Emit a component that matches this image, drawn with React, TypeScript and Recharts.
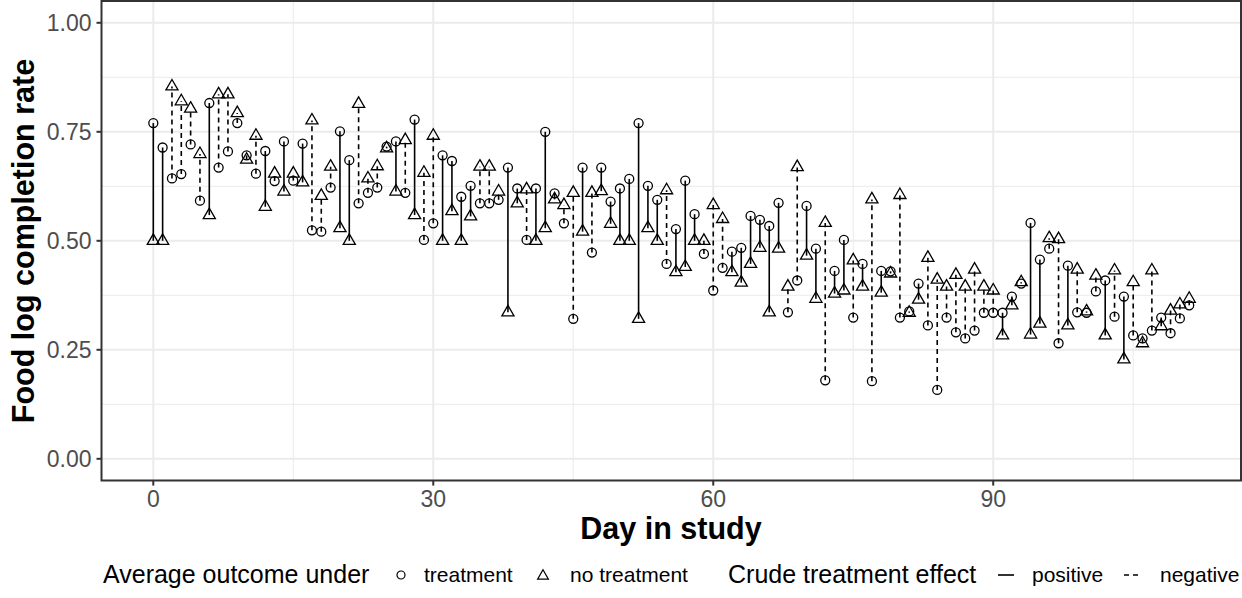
import React from 'react';
import { ComposedChart, XAxis, YAxis, Scatter, ReferenceLine, ReferenceArea, CartesianGrid } from 'recharts';

const days = [
  0, 1, 2, 3, 4, 5, 6, 7, 8, 9, 10, 11, 12, 13, 14, 15, 16, 17, 18, 19,
  20, 21, 22, 23, 24, 25, 26, 27, 28, 29, 30, 31, 32, 33, 34, 35, 36, 37, 38, 39,
  40, 41, 42, 43, 44, 45, 46, 47, 48, 49, 50, 51, 52, 53, 54, 55, 56, 57, 58, 59,
  60, 61, 62, 63, 64, 65, 66, 67, 68, 69, 70, 71, 72, 73, 74, 75, 76, 77, 78, 79,
  80, 81, 82, 83, 84, 85, 86, 87, 88, 89, 90, 91, 92, 93, 94, 95, 96, 97, 98, 99,
  100, 101, 102, 103, 104, 105, 106, 107, 108, 109, 110, 111,
];

// Average outcome under treatment (circles)
const treatment = [
  0.770, 0.714, 0.643, 0.653, 0.721, 0.592, 0.816, 0.668, 0.705, 0.770,
  0.696, 0.654, 0.706, 0.637, 0.728, 0.638, 0.723, 0.524, 0.521, 0.622,
  0.751, 0.685, 0.586, 0.610, 0.622, 0.716, 0.728, 0.610, 0.778, 0.502,
  0.540, 0.696, 0.683, 0.601, 0.626, 0.586, 0.586, 0.594, 0.668, 0.620,
  0.502, 0.620, 0.750, 0.609, 0.540, 0.321, 0.668, 0.473, 0.668, 0.590,
  0.620, 0.642, 0.770, 0.626, 0.594, 0.447, 0.527, 0.638, 0.561, 0.470,
  0.386, 0.438, 0.475, 0.484, 0.557, 0.548, 0.534, 0.587, 0.336, 0.409,
  0.580, 0.482, 0.180, 0.431, 0.502, 0.324, 0.447, 0.178, 0.431, 0.430,
  0.324, 0.338, 0.402, 0.306, 0.158, 0.324, 0.290, 0.276, 0.294, 0.335,
  0.335, 0.335, 0.372, 0.402, 0.541, 0.457, 0.482, 0.265, 0.443, 0.336,
  0.335, 0.384, 0.409, 0.326, 0.372, 0.283, 0.276, 0.294, 0.324, 0.288,
  0.322, 0.352,
];

// Average outcome under no treatment (triangles)
const noTreatment = [
  0.500, 0.500, 0.854, 0.820, 0.803, 0.699, 0.559, 0.836, 0.836, 0.793,
  0.686, 0.741, 0.578, 0.654, 0.613, 0.654, 0.634, 0.776, 0.603, 0.670,
  0.529, 0.500, 0.814, 0.643, 0.671, 0.712, 0.613, 0.731, 0.559, 0.656,
  0.741, 0.500, 0.568, 0.500, 0.556, 0.670, 0.670, 0.613, 0.336, 0.586,
  0.618, 0.500, 0.529, 0.595, 0.582, 0.610, 0.521, 0.610, 0.614, 0.539,
  0.500, 0.500, 0.321, 0.529, 0.500, 0.616, 0.428, 0.440, 0.500, 0.500,
  0.582, 0.550, 0.428, 0.404, 0.447, 0.484, 0.336, 0.482, 0.395, 0.669,
  0.466, 0.367, 0.541, 0.379, 0.386, 0.455, 0.395, 0.595, 0.381, 0.425,
  0.605, 0.335, 0.365, 0.461, 0.411, 0.395, 0.422, 0.395, 0.434, 0.395,
  0.386, 0.283, 0.352, 0.405, 0.285, 0.310, 0.506, 0.504, 0.306, 0.434,
  0.338, 0.420, 0.283, 0.432, 0.228, 0.405, 0.265, 0.432, 0.304, 0.340,
  0.354, 0.367,
];

const xTicks = [0, 30, 60, 90];
const xMinor = [15, 45, 75, 105];
const yTicks = [0, 0.25, 0.5, 0.75, 1];
const yMinor = [0.125, 0.375, 0.625, 0.875];
const xDomain: [number, number] = [-5.55, 116.55];
const yDomain: [number, number] = [-0.05, 1.05];

const circleData = days.map((d, i) => ({ x: d, y: treatment[i] }));
const triData = days.map((d, i) => ({ x: d, y: noTreatment[i] }));

const FONT = '"Liberation Sans", Arial, Helvetica, sans-serif';
const R = 4.5;

const CircleShape = (p: any) => (
  <circle cx={p.cx} cy={p.cy} r={R} fill="none" stroke="#000" strokeWidth={1.3} />
);

const triPoints = (cx: number, cy: number, r: number) => {
  const top = cy - 1.555 * r;
  const bot = cy + 0.778 * r;
  const hw = 1.347 * r;
  return `${cx},${top} ${cx + hw},${bot} ${cx - hw},${bot}`;
};

const TriShape = (p: any) => (
  <polygon points={triPoints(p.cx, p.cy, R)} fill="none" stroke="#000" strokeWidth={1.3} strokeLinejoin="miter" />
);

const tickStyle = { fill: '#4D4D4D', fontSize: 23, fontFamily: FONT };

export default function App() {
  return (
    <div style={{ position: 'absolute', left: 0, top: 0, width: 1242, height: 598, background: '#fff', fontFamily: FONT, overflow: 'hidden' }}>
      <ComposedChart width={1242} height={598} margin={{ top: 1, right: 1, bottom: 0, left: 0 }}>
        <CartesianGrid
          verticalValues={xMinor}
          horizontalValues={yMinor}
          stroke="#EBEBEB"
          strokeWidth={1}
          fill="none"
        />
        <CartesianGrid
          verticalValues={xTicks}
          horizontalValues={yTicks}
          stroke="#EBEBEB"
          strokeWidth={2}
          fill="none"
        />
        <XAxis
          type="number"
          dataKey="x"
          domain={xDomain}
          ticks={xTicks}
          allowDataOverflow
          height={117.4}
          axisLine={false}
          tickLine={{ stroke: '#333333', strokeWidth: 2 }}
          tickSize={5}
          tickMargin={5}
          tick={tickStyle}
          interval={0}
        />
        <YAxis
          type="number"
          dataKey="y"
          domain={yDomain}
          ticks={yTicks}
          allowDataOverflow
          width={101.5}
          axisLine={false}
          tickLine={{ stroke: '#333333', strokeWidth: 2 }}
          tickSize={5}
          tickMargin={5}
          tick={tickStyle}
          tickFormatter={(v: number) => v.toFixed(2)}
          interval={0}
        />
        {days.map((d, i) => (
          <ReferenceLine
            key={'seg' + d}
            segment={[{ x: d, y: treatment[i] }, { x: d, y: noTreatment[i] }]}
            stroke="#000"
            strokeWidth={1.6}
            strokeDasharray={treatment[i] >= noTreatment[i] ? undefined : '5 4'}
            ifOverflow="visible"
          />
        ))}
        <Scatter data={circleData} dataKey="y" shape={CircleShape} isAnimationActive={false} />
        <Scatter data={triData} dataKey="y" shape={TriShape} isAnimationActive={false} />
        <ReferenceArea
          x1={xDomain[0]}
          x2={xDomain[1]}
          y1={yDomain[0]}
          y2={yDomain[1]}
          fill="none"
          fillOpacity={0}
          stroke="#333333"
          strokeWidth={2}
          ifOverflow="visible"
        />
      </ComposedChart>

      {/* Axis titles */}
      <div style={{ position: 'absolute', left: 23, top: 240.7, transform: 'translate(-50%, -50%) rotate(-90deg)', whiteSpace: 'nowrap', fontWeight: 700, fontSize: 30.5, color: '#000', lineHeight: 1 }}>
        Food log completion rate
      </div>
      <div style={{ position: 'absolute', left: 671, top: 528, transform: 'translate(-50%, -50%)', whiteSpace: 'nowrap', fontWeight: 700, fontSize: 30.5, color: '#000', lineHeight: 1 }}>
        Day in study
      </div>

      {/* Legend */}
      <div style={{ position: 'absolute', left: 0, top: 575, width: 1242, height: 0 }}>
        <span style={{ position: 'absolute', left: 103, top: -13, fontSize: 25, lineHeight: '25px', whiteSpace: 'nowrap' }}>Average outcome under</span>
        <svg style={{ position: 'absolute', left: 391, top: -10 }} width={20} height={20}>
          <circle cx={10} cy={10} r={4} fill="none" stroke="#000" strokeWidth={1.2} />
        </svg>
        <span style={{ position: 'absolute', left: 424, top: -11, fontSize: 21, lineHeight: '21px', whiteSpace: 'nowrap' }}>treatment</span>
        <svg style={{ position: 'absolute', left: 533, top: -10 }} width={20} height={20}>
          <polygon points={triPoints(10, 11, 4)} fill="none" stroke="#000" strokeWidth={1.2} />
        </svg>
        <span style={{ position: 'absolute', left: 570, top: -11, fontSize: 21, lineHeight: '21px', whiteSpace: 'nowrap' }}>no treatment</span>
        <span style={{ position: 'absolute', left: 728, top: -13, fontSize: 25, lineHeight: '25px', whiteSpace: 'nowrap' }}>Crude treatment effect</span>
        <svg style={{ position: 'absolute', left: 996, top: -10 }} width={20} height={20}>
          <line x1={2} y1={10} x2={18} y2={10} stroke="#000" strokeWidth={1.6} />
        </svg>
        <span style={{ position: 'absolute', left: 1032, top: -11, fontSize: 21, lineHeight: '21px', whiteSpace: 'nowrap' }}>positive</span>
        <svg style={{ position: 'absolute', left: 1122, top: -10 }} width={20} height={20}>
          <line x1={2} y1={10} x2={18} y2={10} stroke="#000" strokeWidth={1.6} strokeDasharray="5 4" />
        </svg>
        <span style={{ position: 'absolute', left: 1160, top: -11, fontSize: 21, lineHeight: '21px', whiteSpace: 'nowrap' }}>negative</span>
      </div>
    </div>
  );
}
